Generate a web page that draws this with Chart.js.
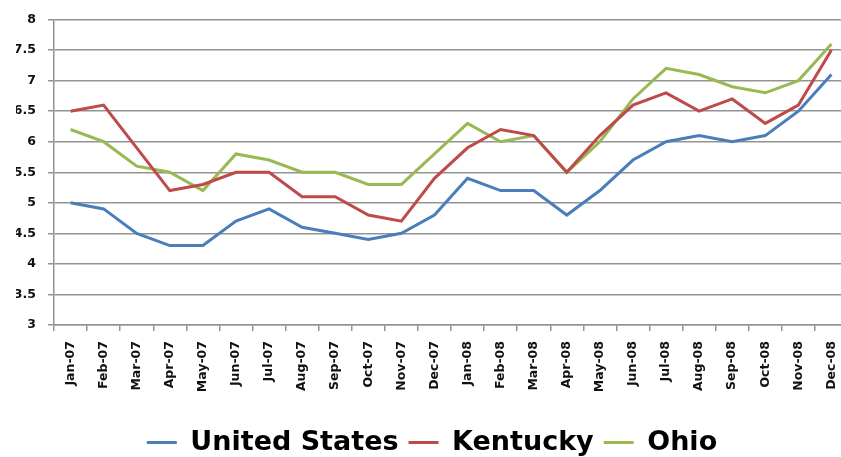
<!DOCTYPE html>
<html>
<head>
<meta charset="utf-8">
<script src="https://cdn.jsdelivr.net/npm/chart.js@4.4.1/dist/chart.umd.min.js"></script>
<style>
  html, body { margin: 0; padding: 0; background: #fff; overflow: hidden; }
  /* plot runs a little past the right/bottom edge, like the original crop */
  #wrap { position: relative; width: 857px; height: 468px; }
</style>
</head>
<body>
<div id="wrap"><canvas id="chart"></canvas></div>
<script>
// Monthly values, Jan-07 .. Dec-08
const months = ['Jan-07', 'Feb-07', 'Mar-07', 'Apr-07', 'May-07', 'Jun-07', 'Jul-07', 'Aug-07',
    'Sep-07', 'Oct-07', 'Nov-07', 'Dec-07', 'Jan-08', 'Feb-08', 'Mar-08', 'Apr-08',
    'May-08', 'Jun-08', 'Jul-08', 'Aug-08', 'Sep-08', 'Oct-08', 'Nov-08', 'Dec-08'];

const unitedStates = [5.0, 4.9, 4.5, 4.3, 4.3, 4.7, 4.9, 4.6, 4.5, 4.4, 4.5, 4.8,
    5.4, 5.2, 5.2, 4.8, 5.2, 5.7, 6.0, 6.1, 6.0, 6.1, 6.5, 7.1];
const kentucky = [6.5, 6.6, 5.9, 5.2, 5.3, 5.5, 5.5, 5.1, 5.1, 4.8, 4.7, 5.4,
    5.9, 6.2, 6.1, 5.5, 6.1, 6.6, 6.8, 6.5, 6.7, 6.3, 6.6, 7.5];
const ohio = [6.2, 6.0, 5.6, 5.5, 5.2, 5.8, 5.7, 5.5, 5.5, 5.3, 5.3, 5.8,
    6.3, 6.0, 6.1, 5.5, 6.0, 6.7, 7.2, 7.1, 6.9, 6.8, 7.0, 7.6];

const yMin = 3;
const yMax = 8;
const yStep = 0.5;

const GRID = '#939393';
const TEXT = '#111';
const tickFont = { family: "'DejaVu Sans', sans-serif", size: 12.5, weight: 'bold' };

function series(label, data, color) {
    return {
        label: label,
        data: data,
        borderColor: color,
        backgroundColor: color,
        borderWidth: 3,
        pointRadius: 0,
        tension: 0
    };
}

new Chart(document.getElementById('chart'), {
    type: 'line',
    data: {
        labels: months,
        datasets: [
            series('United States', unitedStates, '#4A7EBB'),
            series('Kentucky', kentucky, '#BE4B48'),
            series('Ohio', ohio, '#98B954')
        ]
    },
    options: {
        responsive: true,
        maintainAspectRatio: false,
        animation: false,
        layout: { padding: { top: 18, right: 9, bottom: 2, left: 16 } },
        scales: {
            x: {
                offset: true,
                grid: { drawOnChartArea: false, offset: true, tickLength: 6, color: GRID, lineWidth: 1.5 },
                border: { color: GRID, width: 1.5 },
                ticks: { color: TEXT, font: tickFont, minRotation: 90, maxRotation: 90, padding: 10, autoSkip: false },
                afterFit(scale) { scale.height = 94; }
            },
            y: {
                min: yMin,
                max: yMax,
                grid: { color: GRID, lineWidth: 1.5, tickLength: 6 },
                border: { color: GRID, width: 1.5 },
                ticks: { stepSize: yStep, color: TEXT, font: tickFont, padding: 12, callback: v => String(v) },
                afterFit(scale) { scale.width = 38; }
            }
        },
        plugins: {
            legend: {
                position: 'bottom',
                labels: {
                    usePointStyle: true,
                    pointStyle: 'line',
                    pointStyleWidth: 30,
                    boxHeight: 3,
                    padding: 10,
                    color: '#000',
                    font: { family: "'DejaVu Sans', sans-serif", size: 27, weight: 'bold' }
                }
            },
            tooltip: { enabled: false }
        }
    }
});
</script>
</body>
</html>
